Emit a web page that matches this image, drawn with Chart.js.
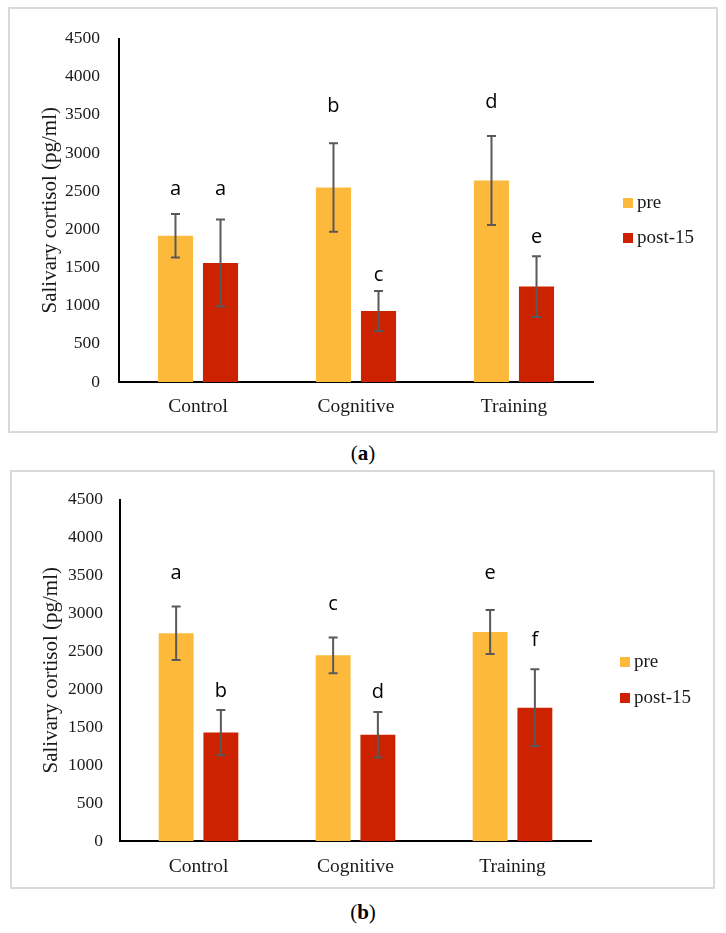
<!DOCTYPE html>
<html>
<head>
<meta charset="utf-8">
<script src="https://cdn.jsdelivr.net/npm/chart.js@4.4.0/dist/chart.umd.min.js"></script>
<style>
  body { margin: 0; background: #fff; width: 726px; height: 933px; position: relative; overflow: hidden; font-family: "Liberation Serif", serif; }
  .panel { position: absolute; border: 2px solid #d9d9d9; box-sizing: border-box; background: #fff; }
  .panel canvas { position: absolute; left: 0; top: 0; }
  .cap { position: absolute; left: 0; width: 726px; text-align: center; font-size: 21px; color: #000; }
</style>
</head>
<body>
<div class="panel" style="left:8px;top:7px;width:710px;height:426px;"><canvas id="chartA" width="706" height="422"></canvas></div>
<div class="cap" style="top:441px;">(<b>a</b>)</div>
<div class="panel" style="left:10px;top:470px;width:705px;height:419px;"><canvas id="chartB" width="701" height="415"></canvas></div>
<div class="cap" style="top:900px;">(<b>b</b>)</div>

<script>
const categories = ["Control", "Cognitive", "Training"];
const seriesNames = ["pre", "post-15"];
const yTitle = "Salivary cortisol (pg/ml)";

// panel (a)
const preA = [1915, 2548, 2640];
const postA = [1558, 930, 1250];
const preErrA = [285, 581, 583];
const postErrA = [570, 262, 398];
const preLettersA = ["a", "b", "d"];
const postLettersA = ["a", "c", "e"];
const preLetterLevelA = [2456, 3542, 3593];
const postLetterLevelA = [2456, 1328, 1818];

// panel (b)
const preB = [2738, 2447, 2753];
const postB = [1429, 1401, 1757];
const preErrB = [352, 236, 290];
const postErrB = [298, 300, 506];
const preLettersB = ["a", "c", "e"];
const postLettersB = ["b", "d", "f"];
const preLetterLevelB = [3446, 3043, 3446];
const postLetterLevelB = [1903, 1881, 2567];

const preColor = "#FCB93C";
const postColor = "#CC2200";
const serif = "'Liberation Serif', serif";

const errorBars = {
  id: "errorBars",
  afterDatasetsDraw(chart) {
    const ctx = chart.ctx;
    const y = chart.scales.y;
    chart.data.datasets.forEach((ds, i) => {
      const meta = chart.getDatasetMeta(i);
      meta.data.forEach((bar, j) => {
        const v = ds.data[j], e = ds.errors[j];
        const top = y.getPixelForValue(v + e);
        const bot = y.getPixelForValue(v - e);
        ctx.save();
        ctx.strokeStyle = "#595959";
        ctx.lineWidth = 2;
        ctx.beginPath();
        ctx.moveTo(bar.x, top); ctx.lineTo(bar.x, bot);
        ctx.moveTo(bar.x - 4.5, top); ctx.lineTo(bar.x + 4.5, top);
        ctx.moveTo(bar.x - 4.5, bot); ctx.lineTo(bar.x + 4.5, bot);
        ctx.stroke();
        ctx.fillStyle = "#000";
        ctx.font = "20px 'Open Sans', sans-serif";
        ctx.textAlign = "center";
        ctx.textBaseline = "alphabetic";
        ctx.fillText(ds.letters[j], bar.x, y.getPixelForValue(ds.letterLevels[j]));
        ctx.restore();
      });
    });
  }
};

const sideLegend = {
  id: "sideLegend",
  afterDraw(chart, args, opts) {
    const ctx = chart.ctx;
    ctx.save();
    ctx.font = "19px " + serif;
    ctx.textBaseline = "middle";
    ctx.textAlign = "left";
    chart.data.datasets.forEach((ds, i) => {
      const cy = opts.y[i];
      ctx.fillStyle = ds.backgroundColor;
      ctx.fillRect(opts.x, cy - 5, 10, 10);
      ctx.fillStyle = "#1a1a1a";
      ctx.fillText(ds.label, opts.x + 14, cy);
    });
    ctx.restore();
  }
};

function buildChart(id, pre, post, preErr, postErr, preL, postL, preLv, postLv, lay) {
  return new Chart(document.getElementById(id), {
    type: "bar",
    data: {
      labels: categories,
      datasets: [
        { label: seriesNames[0], data: pre, errors: preErr, letters: preL, letterLevels: preLv, backgroundColor: preColor },
        { label: seriesNames[1], data: post, errors: postErr, letters: postL, letterLevels: postLv, backgroundColor: postColor }
      ]
    },
    options: {
      responsive: false,
      animation: false,
      layout: { padding: { left: 0, right: lay.padRight, top: lay.padTop, bottom: 0 } },
      datasets: { bar: { categoryPercentage: 0.57, barPercentage: 0.78 } },
      plugins: {
        legend: { display: false },
        tooltip: { enabled: false },
        sideLegend: { x: lay.legendX, y: lay.legendY }
      },
      scales: {
        x: {
          grid: { display: false, drawTicks: false },
          border: { display: true, color: "#000", width: 2 },
          ticks: { color: "#1a1a1a", font: { family: serif, size: 19.5 }, padding: lay.xPad },
          afterFit: (s) => { s.height = lay.xHeight; }
        },
        y: {
          min: 0,
          max: 4500,
          grid: { display: false, drawTicks: false },
          border: { display: true, color: "#000", width: 2 },
          ticks: { stepSize: 500, color: "#1a1a1a", font: { family: serif, size: 17.5 }, padding: lay.yPad,
                   callback: (v) => String(v) },
          title: { display: true, text: yTitle, color: "#1a1a1a", font: { family: serif, size: 21 }, padding: { top: lay.titlePad, bottom: 0 } },
          afterFit: (s) => { s.width = lay.yWidth; }
        }
      }
    },
    plugins: [errorBars, sideLegend]
  });
}

buildChart("chartA", preA, postA, preErrA, postErrA, preLettersA, postLettersA, preLetterLevelA, postLetterLevelA,
  { padRight: 123, padTop: 20, xHeight: 49, xPad: 13, yWidth: 109, yPad: 19, titlePad: 28, legendX: 613, legendY: [194, 229] });

buildChart("chartB", preB, postB, preErrB, postErrB, preLettersB, postLettersB, preLetterLevelB, postLetterLevelB,
  { padRight: 122, padTop: 19, xHeight: 46, xPad: 14, yWidth: 108, yPad: 17, titlePad: 27, legendX: 608, legendY: [190, 226] });
</script>
</body>
</html>
